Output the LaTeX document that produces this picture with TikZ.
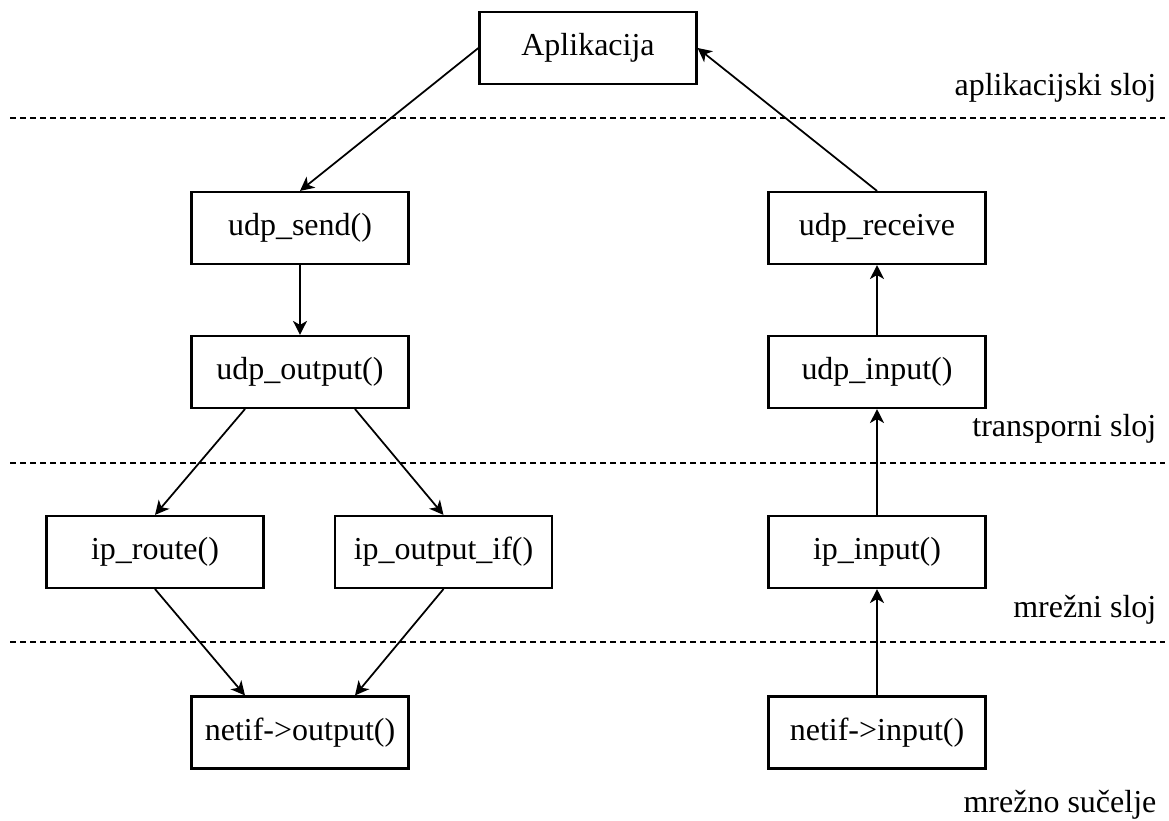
\documentclass[tikz,border=0pt]{standalone}
\usepackage{fontspec}
\setmainfont{Liberation Serif}
\usetikzlibrary{arrows.meta}
\tikzset{
	fn/.style={draw,line width=0.6pt,minimum width=2.17cm,minimum height=0.72cm,inner sep=0pt,font=\fontsize{9.1}{11}\selectfont},
	layer/.style={anchor=east,inner sep=0pt,font=\fontsize{9.1}{11}\selectfont},
	sep/.style={line width=0.5pt,dash pattern=on 0.55mm off 0.45mm},
	flow/.style={line width=0.5pt,-{Stealth[length=1.4mm,width=1.4mm,inset=0.4mm]}}
}
\begin{document}
\begin{tikzpicture}[x=1cm,y=1cm,scale=1]
			\useasboundingbox (0,0) rectangle (11.69,8.21);
			% slojevi
			\draw[sep] (0.10,7.03)--(11.65,7.03);
			\draw[sep] (0.10,3.58)--(11.65,3.58);
			\draw[sep] (0.10,1.79)--(11.65,1.79);
			\node[layer] (ls1) at (11.57,7.33) {aplikacijski sloj};
			\node[layer] (ls2) at (11.57,3.92) {transporni sloj};
			\node[layer] (ls3) at (11.57,2.11) {mrežni sloj};
			\node[layer] (ls4) at (11.57,0.16) {mrežno sučelje};
			% funkcije
			\node[fn] (app) at (5.88,7.73) {Aplikacija};
			\node[fn] (usend) at (3.00,5.93) {udp\_send()};
			\node[fn] (uout) at (3.00,4.49) {udp\_output()};
			\node[fn] (iproute) at (1.55,2.69) {ip\_route()};
			\node[fn] (ipoutif) at (4.435,2.69) {ip\_output\_if()};
			\node[fn] (nout) at (3.00,0.885) {netif->output()};
			\node[fn] (urecv) at (8.77,5.93) {udp\_receive};
			\node[fn] (uin) at (8.77,4.49) {udp\_input()};
			\node[fn] (ipin) at (8.77,2.69) {ip\_input()};
			\node[fn] (nin) at (8.77,0.885) {netif->input()};
			% slanje
			\draw[flow] (app.west)--(usend.north);
			\draw[flow] (usend)--(uout);
			\draw[flow] ([xshift=-5.5mm]uout.south)--(iproute.north);
			\draw[flow] ([xshift=5.5mm]uout.south)--(ipoutif.north);
			\draw[flow] (iproute.south)--([xshift=-5.5mm]nout.north);
			\draw[flow] (ipoutif.south)--([xshift=5.5mm]nout.north);
			% primanje
			\draw[flow] (nin)--(ipin);
			\draw[flow] (ipin)--(uin);
			\draw[flow] (uin)--(urecv);
			\draw[flow] (urecv.north)--(app.east);
	\end{tikzpicture}
\end{document}
